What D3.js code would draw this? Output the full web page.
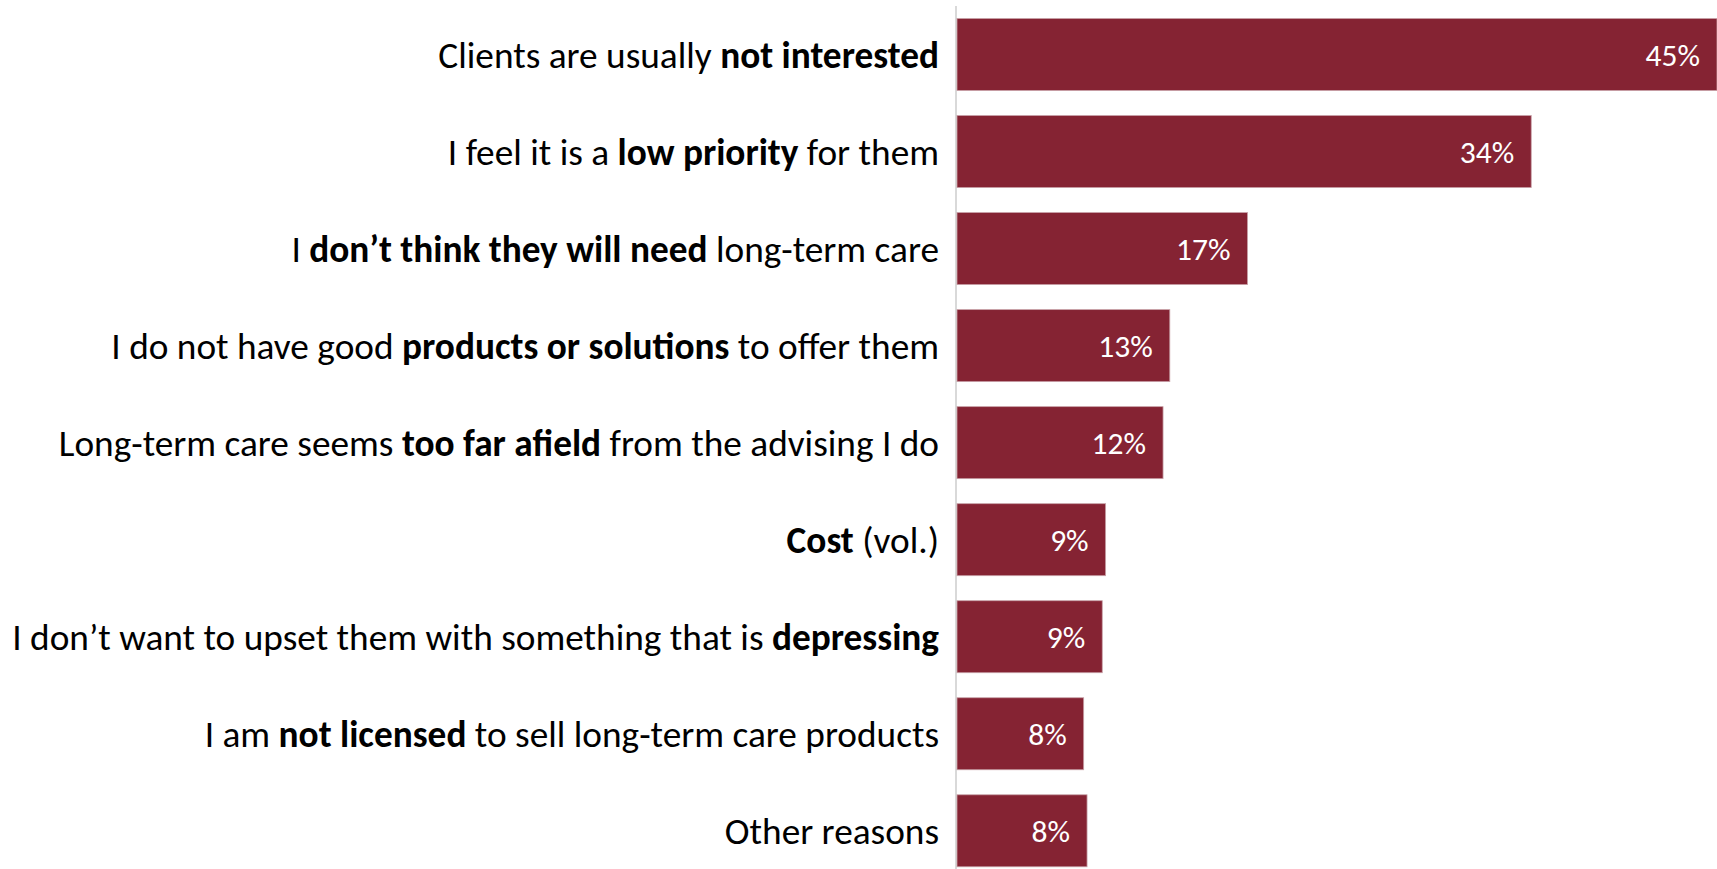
<!DOCTYPE html>
<html>
<head>
<meta charset="utf-8">
<script src="https://cdn.jsdelivr.net/npm/d3@7"></script>
<style>
  html, body { margin: 0; padding: 0; background: #ffffff; }
  svg { display: block; }
  text { font-family: Carlito, Calibri, Lato, "Open Sans", sans-serif; }
</style>
</head>
<body>
<svg id="chart" width="1717" height="869"></svg>
<script>
// Reasons advisors give for not raising long-term care with clients
// Each label is split into [text, isBold] runs.
const labelParts = [
  [["Clients are usually ", false], ["not interested", true]],
  [["I feel it is a ", false], ["low priority", true], [" for them", false]],
  [["I ", false], ["don\u2019t think they will need", true], [" long-term care", false]],
  [["I do not have good ", false], ["products or solutions", true], [" to offer them", false]],
  [["Long-term care seems ", false], ["too far afield", true], [" from the advising I do", false]],
  [["Cost", true], [" (vol.)", false]],
  [["I don\u2019t want to upset them with something that is ", false], ["depressing", true]],
  [["I am ", false], ["not licensed", true], [" to sell long-term care products", false]],
  [["Other reasons", false]]
];
const categories = labelParts.map(p => p.map(r => r[0]).join(""));
const values = [45, 34, 17.2, 12.6, 12.2, 8.8, 8.6, 7.5, 7.7];

const svg = d3.select("#chart");
const W = 1717, H = 869;
const axisX = 957;

const x = d3.scaleLinear().domain([0, 45]).range([axisX, 1717]);
const y = d3.scaleBand()
  .domain(categories)
  .range([6, 879.3])
  .paddingInner(0.258)
  .paddingOuter(0.129);

// vertical baseline
svg.append("line")
  .attr("x1", axisX - 1).attr("x2", axisX - 1)
  .attr("y1", 6).attr("y2", H)
  .attr("stroke", "#d9d9d9").attr("stroke-width", 2);

// bars
svg.append("g").selectAll("rect")
  .data(categories)
  .join("rect")
  .attr("x", x(0))
  .attr("y", d => y(d))
  .attr("width", (d, i) => x(values[i]) - x(0))
  .attr("height", y.bandwidth())
  .attr("fill", "#852333")
  .attr("stroke", "#c7a0a7")
  .attr("stroke-width", 0.8);

// value labels inside the bar ends
svg.append("g").selectAll("text")
  .data(categories)
  .join("text")
  .attr("x", (d, i) => x(values[i]) - 17)
  .attr("y", d => y(d) + y.bandwidth() / 2)
  .attr("dy", "0.36em")
  .attr("text-anchor", "end")
  .attr("fill", "#ffffff")
  .attr("font-size", 31.5)
  .text((d, i) => Math.round(values[i]) + "%");

// category labels with bold emphasis
const lab = svg.append("g").selectAll("text")
  .data(categories)
  .join("text")
  .attr("x", 939)
  .attr("y", d => y(d) + y.bandwidth() / 2)
  .attr("dy", "0.36em")
  .attr("text-anchor", "end")
  .attr("fill", "#000000")
  .attr("font-size", 37.3);

lab.each(function(d, i) {
  d3.select(this).selectAll("tspan")
    .data(labelParts[i])
    .join("tspan")
    .attr("font-weight", r => r[1] ? "bold" : "normal")
    .text(r => r[0]);
});
</script>
</body>
</html>
